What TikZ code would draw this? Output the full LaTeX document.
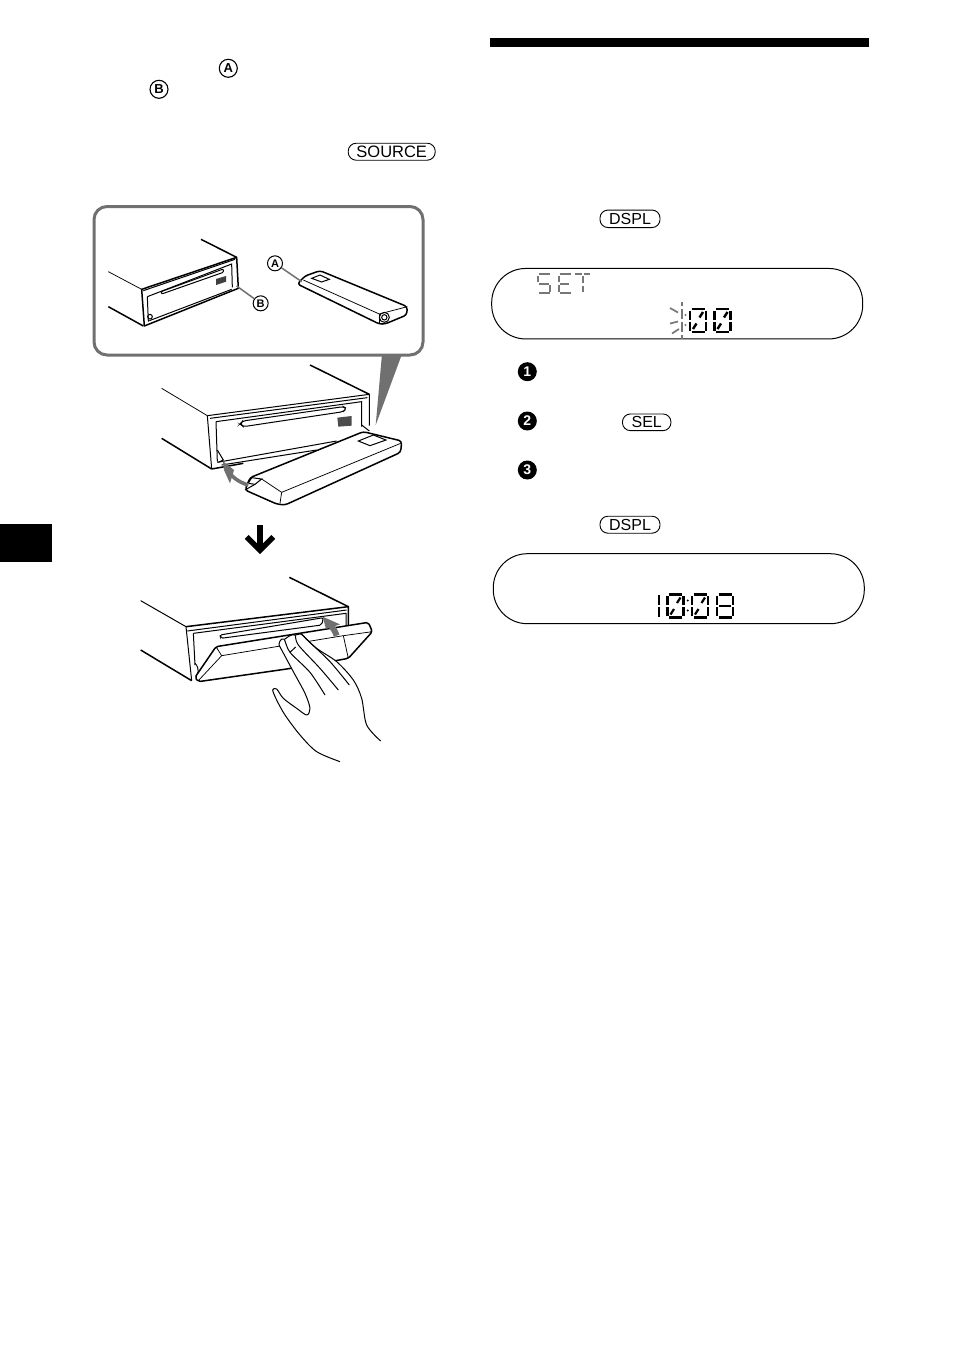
\documentclass[tikz,border=0pt]{standalone}
\usepackage{fontspec}
\setmainfont{Liberation Sans}
\definecolor{gfig}{HTML}{707070}
\definecolor{gseg}{HTML}{777777}
\tikzset{
  btn/.style={draw,line width=.9pt,rounded corners=8pt,inner sep=0pt,font=\fontsize{#1}{#1}\selectfont},
  lettercirc/.style={circle,draw,line width=1.1pt,inner sep=0pt,minimum size=18pt,font=\fontsize{13}{13}\selectfont\bfseries},
  smallcirc/.style={circle,draw,line width=1pt,fill=white,inner sep=0pt,minimum size=15pt,font=\fontsize{11}{11}\selectfont\bfseries},
  numcirc/.style={circle,fill=black,text=white,inner sep=0pt,minimum size=19pt,font=\fontsize{14}{14}\selectfont\bfseries},
  lcdbox/.style={draw,line width=1pt,rounded corners=34pt,inner sep=0pt},
  thinl/.style={line width=.75pt},
  medl/.style={line width=1pt},
  thickl/.style={line width=1.5pt},
  leader/.style={gfig,line width=1.5pt},
  figs/.style={x=0.33333pt,y=-0.33333pt},
}
\newcommand\lcddigit[5]{% x,y,line width,colour,segments
 \begin{scope}[shift={(#1,#2)},draw=#4,line width=#3pt]
  \foreach \s in {#5}{\csname sg\s\endcsname}
 \end{scope}}
% unit cell: width 16, height 23
\expandafter\def\csname sga\endcsname{\draw (1.5,0)--(14.5,0);}
\expandafter\def\csname sgb\endcsname{\draw (16,1.5)--(16,10.5);}
\expandafter\def\csname sgc\endcsname{\draw (16,12.5)--(16,21.5);}
\expandafter\def\csname sgd\endcsname{\draw (1.5,23)--(14.5,23);}
\expandafter\def\csname sge\endcsname{\draw (0,12.5)--(0,21.5);}
\expandafter\def\csname sgf\endcsname{\draw (0,1.5)--(0,10.5);}
\expandafter\def\csname sgg\endcsname{\draw (2,11.5)--(14,11.5);}
\expandafter\def\csname sgs\endcsname{\draw (3,20)--(6.5,14.5);}
\expandafter\def\csname sgt\endcsname{\draw (13,3)--(9.5,8.5);}
\begin{document}
\begin{tikzpicture}[x=1pt,y=-1pt]
\useasboundingbox (0,0) rectangle (954,1352);
\fill[white] (0,0) rectangle (954,1352);
% page furniture
\fill[black] (490,38) rectangle (869,47);
\fill[black] (0,524) rectangle (52,562);
% top left references
\node[lettercirc] (ca) at (228.3,68.3) {A};
\node[lettercirc] (cb) at (159,89.3) {B};
\node[btn=16.5,minimum width=87pt,minimum height=17pt] (source) at (391.7,151.7) {SOURCE};
% wedge
\fill[gfig] (382,354) -- (402,354) -- (375.7,425) -- cycle;
% detail frame
\draw[gfig,line width=3pt,rounded corners=13pt] (94,206.5) rectangle (423,355);
% ---------- detail drawing
\begin{scope}[shift={(90,200)},figs]
 \draw[thickl] (333,118)--(440,172);
 \draw[thinl] (55,215)--(155,268);
 \draw[thickl] (55,320)--(160,378);
 \draw[thickl,line join=round] (155,268)--(440,172)--(445,265)--(163,378)--cycle;
 \draw[medl] (172,290)--(425,192)--(427,262);
 \draw[medl] (172,290)--(175,365);
 \draw[medl] (178,362)--(425,268);
 \draw[medl] (160,272)--(435,178);
 \draw[medl,rounded corners=1pt] (213,275)--(400,207)--(400,217)--(215,282)--cycle;
 \fill[black!75] (378,237)--(408,228)--(408,245)--(378,255)--cycle;
 \draw[medl] (180,350) circle (7);
 % cover
 \draw[thickl,line join=round,rounded corners=3pt] (622,252)--(645,228)--(690,212)--(952,320)--(950,345)--(885,372)--(868,372)--cycle;
 \draw[thinl] (640,240)--(868,342)--(952,320);
 \draw[thinl] (868,342)--(868,372);
 \draw[medl] (665,235)--(690,225)--(718,238)--(695,246)--cycle;
 \draw[medl] (883,352) circle (15);
 \draw[medl] (883,352) circle (8);
 \coordinate (pa) at (635,245);
 \coordinate (pb) at (440,258);
 \node[smallcirc] (da) at (555,190) {A};
 \node[smallcirc] (db) at (512,310) {B};
 \draw[leader] (da) -- (pa);
 \draw[leader] (db) -- (pb);
\end{scope}
% ---------- middle drawing
\begin{scope}[shift={(130,355)},figs]
 \draw[thickl] (540,30)--(718,118);
 \draw[thinl] (95,100)--(232,182);
 \draw[thickl] (95,250)--(245,342);
 \draw[medl] (232,182)--(718,118)--(718,212);
 \draw[medl] (232,182)--(245,342);
 \draw[medl] (240,190)--(712,128);
 \draw[medl] (258,200)--(695,140)--(695,215);
 \draw[medl] (258,200)--(262,320);
 \draw[thickl] (245,342)--(340,325);
 \draw[medl] (262,322)--(620,258);
 \draw[medl] (275,330)--(560,285);
 \draw[medl,rounded corners=3pt] (330,207)--(338,198)--(640,155)--(650,160)--(640,170)--(340,215)--cycle;
 \fill[black!70] (622,188)--(665,183)--(665,212)--(625,215)--cycle;
 \draw[medl] (262,285)--(280,315)--(265,322);
 \draw[medl] (695,210)--(718,228);
 % cover
 \draw[thickl,line join=round,rounded corners=3pt] (345,405)--(360,368)--(700,230)--(815,258)--(812,292)--(465,450)--(440,447)--cycle;
 \draw[thinl] (395,372)--(455,412)--(812,265);
 \draw[thinl] (455,412)--(450,445);
 \draw[medl] (685,258)--(730,240)--(768,255)--(720,272)--cycle;
 \draw[medl] (355,385)--(365,368)--(395,372)--(375,388)--(355,385);
 \draw[medl] (345,405)--(375,388);
 % curved arrow
 \draw[gfig,line width=3.6pt] (355,390) .. controls (325,382) and (300,362) .. (290,340);
 \fill[gfig] (278,318)--(312,345)--(300,385)--(282,345)--cycle;
 % down arrow
 \draw[black,line width=5.5pt] (390,510)--(390,582);
 \draw[black,line width=5.5pt,line join=miter] (350,546)--(390,586)--(430,546);
\end{scope}
% ---------- bottom drawing
\begin{scope}[shift={(130,565)},figs]
 \draw[thickl] (478,37)--(655,125);
 \draw[medl] (32,107)--(168,185);
 \draw[thickl] (32,255)--(185,347);
 \draw[thickl] (168,185)--(655,125)--(655,180);
 \draw[medl] (168,185)--(185,347);
 \draw[medl] (172,198)--(650,135);
 \draw[medl] (190,205)--(648,145)--(648,180);
 \draw[medl] (190,205)--(195,300);
 \draw[medl,rounded corners=2pt] (270,210)--(580,158)--(575,180)--(272,220)--cycle;
 \draw[medl] (195,295) .. controls (210,310) and (205,330) .. (197,335);
 % cover
 \filldraw[thickl,fill=white,line join=round,rounded corners=2pt] (195,337)--(258,245)--(715,172)--(727,200)--(655,280)--(590,292)--(470,312)--(205,350)--cycle;
 \draw[thinl] (258,245)--(275,272)--(640,212);
 \draw[thinl] (275,272)--(205,347);
 \draw[thinl] (640,212)--(727,200);
 \draw[thinl] (640,212)--(655,280);
 % curved arrow
 \draw[gfig,line width=6pt] (620,212) .. controls (616,200) and (610,190) .. (600,178);
 \fill[gfig] (578,155)--(630,178)--(588,192)--cycle;
 % hand
 \fill[white] (447,240)--(460,222)--(510,208)--(560,250)--(620,290)--(670,345)--(695,400)--(710,480)--(752,528)--(630,590)--(560,560)--(510,510)--(465,450)--(430,375)--(460,400)--(530,450)--(540,430)--(525,385)--(490,320)--cycle;
 \draw[medl,line join=round] plot[smooth] coordinates {(447,240)(490,320)(525,385)(540,430)(530,450)(500,430)(460,400)(440,372)(428,375)(440,405)(465,450)(510,510)(560,560)(630,590)};
 \draw[medl] plot[smooth] coordinates {(447,240)(450,228)(462,222)(480,262)(540,322)(585,390)};
 \draw[medl] plot[smooth] coordinates {(465,222)(480,212)(495,210)(505,240)(570,310)(625,375)};
 \draw[medl] plot[smooth] coordinates {(497,210)(515,208)(535,228)(600,290)(658,360)};
 \draw[medl] plot[smooth] coordinates {(515,208)(560,250)(620,290)(670,345)(695,400)(710,480)(752,528)};
 \draw[medl] (480,262)--(497,246);
\end{scope}
% ---------- right column
\node[btn=16,minimum width=60pt,minimum height=17.5pt] (dspla) at (630,218.8) {DSPL};
\node[lcdbox,minimum width=371pt,minimum height=70.5pt] (lcda) at (677.2,303.7) {};
% SET letters
\draw[gseg,line width=2pt] (539,274)--(549.5,274) (538,275.5)--(538,282) (539,283.5)--(549,283.5) (550,285)--(550,292) (538.5,293)--(549.5,293);
\draw[gseg,line width=2pt] (559.5,274)--(570.5,274) (559.5,283.5)--(569,283.5) (559.5,293)--(570.5,293) (558.5,275.5)--(558.5,282) (558.5,285)--(558.5,292);
\draw[gseg,line width=2pt] (575,274)--(581.5,274) (583.5,274)--(590,274) (582.5,276)--(582.5,283) (582.5,286)--(582.5,292);
% first time value
\lcddigit{690}{309}{2.4}{black}{a,b,c,d,e,f,s,t}
\lcddigit{714.5}{309}{2.4}{black}{a,b,c,d,e,f,s,t}
\draw[gseg,line width=2pt] (681.7,302)--(681.7,306) (681.7,309)--(681.7,319) (681.7,322)--(681.7,332) (681.7,335)--(681.7,339);
\fill[gseg] (685.5,315) circle (1.2) (685.5,325) circle (1.2);
\draw[gseg,line width=1.7pt] (670,308)--(678,312.5) (670,323.5)--(678,321.5) (672,333.5)--(679,329);
% second display
\node[btn=16,minimum width=60pt,minimum height=17pt] (dsplb) at (630,524.7) {DSPL};
\node[lcdbox,minimum width=371pt,minimum height=70pt] (lcdb) at (678.8,588.7) {};
\draw[black,line width=2.2pt] (659,595)--(659,604.5) (659,606.5)--(659,616.5);
\lcddigit{667.5}{594.5}{2.2}{black}{a,b,c,d,e,f,s,t}
\lcddigit{692}{594.5}{2.2}{black}{a,b,c,d,e,f,s,t}
\lcddigit{717}{594.5}{2.2}{black}{a,b,c,d,e,f,g}
\fill[black] (687.7,600.5) circle (1.1) (687.7,610.5) circle (1.1);
% step bullets
\node[numcirc] (n1) at (527.3,371.7) {1};
\node[numcirc] (n2) at (527.3,421) {2};
\node[numcirc] (n3) at (527.3,470) {3};
\node[btn=16,minimum width=48.5pt,minimum height=16.7pt] (sel) at (646.7,422.3) {SEL};
\end{tikzpicture}
\end{document}
